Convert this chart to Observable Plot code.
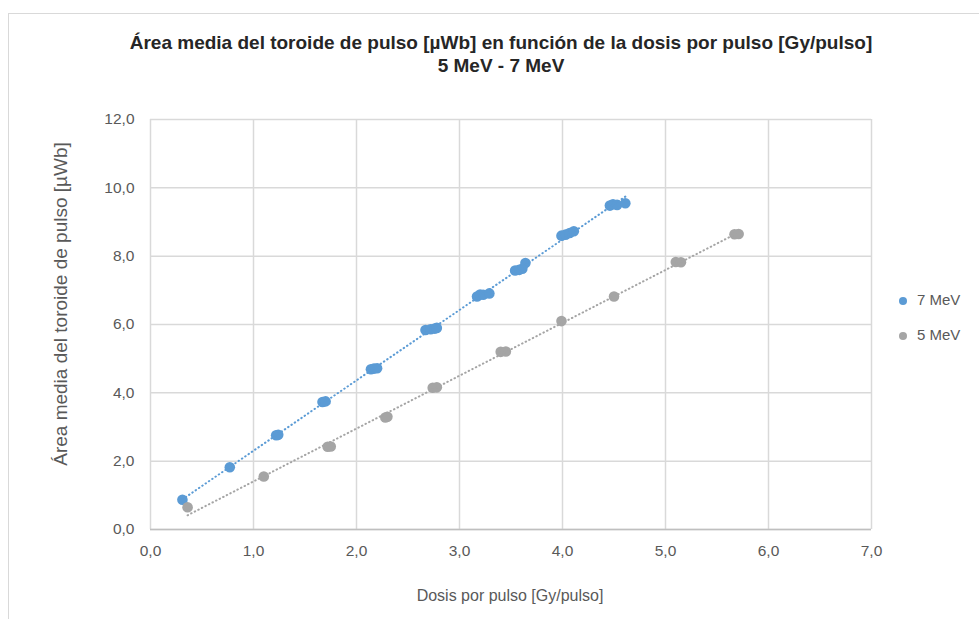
<!DOCTYPE html>
<html><head><meta charset="utf-8">
<script src="https://cdn.jsdelivr.net/npm/d3@7"></script>
<script src="https://cdn.jsdelivr.net/npm/@observablehq/plot@0.6"></script>
<style>
body{margin:0;background:#fff;overflow:hidden;}
#wrap{position:relative;width:979px;height:619px;overflow:hidden;background:#fff;}
#frame{position:absolute;left:8px;top:13px;width:1200px;height:800px;border:1px solid #d9d9d9;}
#title{position:absolute;left:0;top:31px;width:1002px;text-align:center;font-family:"Liberation Sans",sans-serif;font-weight:bold;font-size:19px;line-height:23px;color:#262626;}
#chart{position:absolute;left:0;top:0;}
</style>
</head><body>
<div id="wrap">
<div id="frame"></div>
<div id="chart"></div>
<div id="title">Área media del toroide de pulso [µWb] en función de la dosis por pulso [Gy/pulso]<br>5 MeV - 7 MeV</div>
</div>
<script>
// 7 MeV series
const dose7 = [0.31, 0.77, 1.22, 1.24, 1.67, 1.70, 2.14, 2.17, 2.20, 2.67, 2.72, 2.76, 2.78, 3.17, 3.20, 3.23, 3.29, 3.54, 3.58, 3.61, 3.64, 3.99, 4.03, 4.07, 4.11, 4.46, 4.49, 4.53, 4.61];
const area7 = [0.87, 1.82, 2.76, 2.77, 3.73, 3.75, 4.69, 4.71, 4.72, 5.84, 5.86, 5.88, 5.90, 6.82, 6.88, 6.87, 6.91, 7.58, 7.60, 7.63, 7.80, 8.60, 8.63, 8.68, 8.73, 9.48, 9.52, 9.50, 9.55];
// 5 MeV series
const dose5 = [0.36, 1.10, 1.72, 1.75, 2.28, 2.30, 2.74, 2.78, 3.40, 3.45, 3.99, 4.50, 5.10, 5.15, 5.67, 5.71];
const area5 = [0.65, 1.55, 2.42, 2.43, 3.28, 3.30, 4.15, 4.16, 5.20, 5.21, 6.10, 6.82, 7.83, 7.82, 8.64, 8.65];
const seriesNames = ["7 MeV", "5 MeV"];
const seriesColors = ["#5b9bd5", "#a5a5a5"];
const xTicks = [0, 1, 2, 3, 4, 5, 6, 7];
const yTicks = [0, 2, 4, 6, 8, 10, 12];
const xTitle = "Dosis por pulso [Gy/pulso]";
const yTitle = "Área media del toroide de pulso [µWb]";

const d7 = dose7.map((d, i) => ({x: d, y: area7[i]}));
const d5 = dose5.map((d, i) => ({x: d, y: area5[i]}));
const fmt = d => d.toFixed(1).replace(".", ",");
const font = "'Liberation Sans',sans-serif";

const chart = Plot.plot({
  width: 979, height: 619,
  marginLeft: 150, marginRight: 108, marginTop: 119, marginBottom: 90,
  style: {fontFamily: font, fontSize: "15.5px", color: "#595959", background: "transparent"},
  x: {domain: [0, 7], label: null},
  y: {domain: [0, 12], label: null},
  marks: [
    Plot.gridX(xTicks, {stroke: "#d9d9d9", strokeOpacity: 1, strokeWidth: 1.5}),
    Plot.gridY(yTicks, {stroke: "#d9d9d9", strokeOpacity: 1, strokeWidth: 1.5}),
    Plot.ruleY([0], {stroke: "#bfbfbf", strokeWidth: 1.5}),
    Plot.axisX(xTicks, {tickSize: 0, tickPadding: 15, tickFormat: fmt, label: null}),
    Plot.axisY(yTicks, {tickSize: 0, tickPadding: 16, tickFormat: fmt, label: null}),
    Plot.dot(d7, {x: "x", y: "y", r: 5.3, fill: seriesColors[0]}),
    Plot.dot(d5, {x: "x", y: "y", r: 5.3, fill: seriesColors[1]}),
    Plot.linearRegressionY(d7, {x: "x", y: "y", ci: 0, stroke: seriesColors[0], strokeWidth: 2, strokeDasharray: "0.5,3.5", strokeLinecap: "round"}),
    Plot.linearRegressionY(d5, {x: "x", y: "y", ci: 0, stroke: seriesColors[1], strokeWidth: 2, strokeDasharray: "0.5,3.5", strokeLinecap: "round"})
  ]
});
document.getElementById("chart").appendChild(chart);

const svg = d3.select(chart);
svg.append("text").text(xTitle)
  .attr("x", 510).attr("y", 597).attr("text-anchor", "middle").attr("dominant-baseline", "middle")
  .attr("fill", "#595959").attr("font-family", font).attr("font-size", 16);
svg.append("text").text(yTitle)
  .attr("transform", "translate(62,304) rotate(-90)").attr("text-anchor", "middle").attr("dominant-baseline", "middle")
  .attr("fill", "#595959").attr("font-family", font).attr("font-size", 19);
const leg = svg.append("g");
seriesNames.forEach((name, i) => {
  const y = 301 + i * 35;
  leg.append("circle").attr("cx", 903).attr("cy", y).attr("r", 4).attr("fill", seriesColors[i]);
  leg.append("text").text(name).attr("x", 917).attr("y", y).attr("text-anchor", "start").attr("dominant-baseline", "middle")
    .attr("fill", "#595959").attr("font-family", font).attr("font-size", 15);
});
</script>
</body></html>
